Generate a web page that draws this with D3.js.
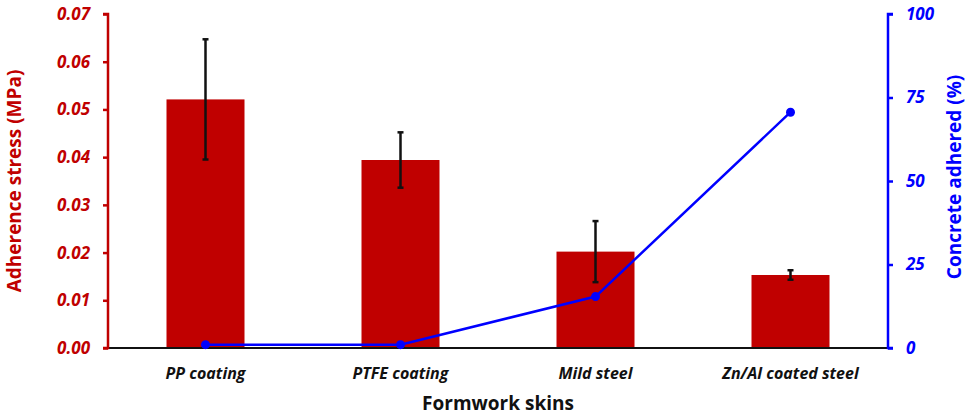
<!DOCTYPE html>
<html>
<head>
<meta charset="utf-8">
<script src="https://cdn.jsdelivr.net/npm/d3@7"></script>
<style>
  body { margin: 0; background: #fff; }
  svg text { font-family: "Open Sans", Lato, sans-serif; }
</style>
</head>
<body>
<div id="chart"></div>
<script>
// data
const skins = ["PP coating", "PTFE coating", "Mild steel", "Zn/Al coated steel"];
const stress = [0.0521, 0.0394, 0.0202, 0.0153];
const stressErr = [0.0126, 0.0058, 0.0064, 0.0010];
const adhered = [1, 1, 15.4, 70.6];
const leftTicks = [0, 0.01, 0.02, 0.03, 0.04, 0.05, 0.06, 0.07];
const rightTicks = [0, 25, 50, 75, 100];

const width = 966, height = 416;
const margin = {top: 14, right: 78, bottom: 68, left: 108};

const svg = d3.select("#chart").append("svg")
  .attr("width", width)
  .attr("height", height);

// scales
const x = d3.scaleBand()
  .domain(skins)
  .range([margin.left, width - margin.right])
  .paddingInner(0.6)
  .paddingOuter(0.3);

const yL = d3.scaleLinear().domain([0, 0.07]).range([height - margin.bottom, margin.top]);
const yR = d3.scaleLinear().domain([0, 100]).range([height - margin.bottom, margin.top]);

const red = "#c00000", blue = "#0000ff";

// bars
svg.append("g").selectAll("rect")
  .data(skins)
  .join("rect")
  .attr("x", d => x(d))
  .attr("y", (d, i) => yL(stress[i]))
  .attr("width", x.bandwidth())
  .attr("height", (d, i) => yL(0) - yL(stress[i]))
  .attr("fill", red);

// error bars
const eb = svg.append("g").attr("stroke", "#111").attr("stroke-width", 2.5);
skins.forEach((d, i) => {
  const cx = x(d) + x.bandwidth() / 2;
  const top = yL(stress[i] + stressErr[i]), bot = yL(stress[i] - stressErr[i]);
  eb.append("line").attr("x1", cx).attr("x2", cx).attr("y1", top).attr("y2", bot);
  eb.append("line").attr("x1", cx - 3).attr("x2", cx + 3).attr("y1", top).attr("y2", top);
  eb.append("line").attr("x1", cx - 3).attr("x2", cx + 3).attr("y1", bot).attr("y2", bot);
});

// bottom axis line
svg.append("line")
  .attr("x1", margin.left).attr("x2", width - margin.right)
  .attr("y1", yL(0)).attr("y2", yL(0))
  .attr("stroke", "#111").attr("stroke-width", 2);

// concrete adhered line
const line = d3.line()
  .x((d, i) => x(skins[i]) + x.bandwidth() / 2)
  .y(d => yR(d));

svg.append("path")
  .datum(adhered)
  .attr("d", line)
  .attr("fill", "none")
  .attr("stroke", blue)
  .attr("stroke-width", 2.5);

svg.append("g").selectAll("circle")
  .data(adhered)
  .join("circle")
  .attr("cx", (d, i) => x(skins[i]) + x.bandwidth() / 2)
  .attr("cy", d => yR(d))
  .attr("r", 4.5)
  .attr("fill", blue);

// left axis
const axL = svg.append("g")
  .attr("transform", `translate(${margin.left},0)`)
  .call(d3.axisLeft(yL).tickValues(leftTicks).tickFormat(d3.format(".2f")).tickSize(5).tickPadding(13));
axL.select(".domain").attr("stroke", red).attr("stroke-width", 2.5).attr("d", `M-5,${yL(0.07)}H0V${yL(0)}H-5`);
axL.selectAll(".tick line").attr("stroke", red).attr("stroke-width", 2.5);
axL.selectAll(".tick text")
  .attr("fill", red)
  .attr("font-size", 17)
  .attr("font-weight", "bold")
  .attr("font-style", "italic");

// right axis
const axR = svg.append("g")
  .attr("transform", `translate(${width - margin.right},0)`)
  .call(d3.axisRight(yR).tickValues(rightTicks).tickSize(5).tickPadding(13));
axR.select(".domain").attr("stroke", blue).attr("stroke-width", 2.5).attr("d", `M5,${yR(100)}H0V${yR(0)}H5`);
axR.selectAll(".tick line").attr("stroke", blue).attr("stroke-width", 2.5);
axR.selectAll(".tick text")
  .attr("fill", blue)
  .attr("font-size", 17)
  .attr("font-weight", "bold")
  .attr("font-style", "italic");

// category labels
svg.append("g").selectAll("text")
  .data(skins)
  .join("text")
  .attr("x", d => x(d) + x.bandwidth() / 2)
  .attr("y", 379)
  .attr("text-anchor", "middle")
  .attr("font-size", 16)
  .attr("font-weight", "bold")
  .attr("font-style", "italic")
  .attr("fill", "#111")
  .text(d => d);

// axis titles
const midY = (yL(0) + yL(0.07)) / 2;
svg.append("text")
  .attr("x", (margin.left + width - margin.right) / 2)
  .attr("y", 410)
  .attr("text-anchor", "middle")
  .attr("font-size", 19)
  .attr("font-weight", "bold")
  .attr("fill", "#111")
  .text("Formwork skins");

svg.append("text")
  .attr("transform", `translate(21,${midY}) rotate(-90)`)
  .attr("text-anchor", "middle")
  .attr("font-size", 19)
  .attr("font-weight", "bold")
  .attr("fill", red)
  .text("Adherence stress (MPa)");

svg.append("text")
  .attr("transform", `translate(961,${midY - 4}) rotate(-90)`)
  .attr("text-anchor", "middle")
  .attr("font-size", 19)
  .attr("font-weight", "bold")
  .attr("fill", blue)
  .text("Concrete adhered (%)");
</script>
</body>
</html>
